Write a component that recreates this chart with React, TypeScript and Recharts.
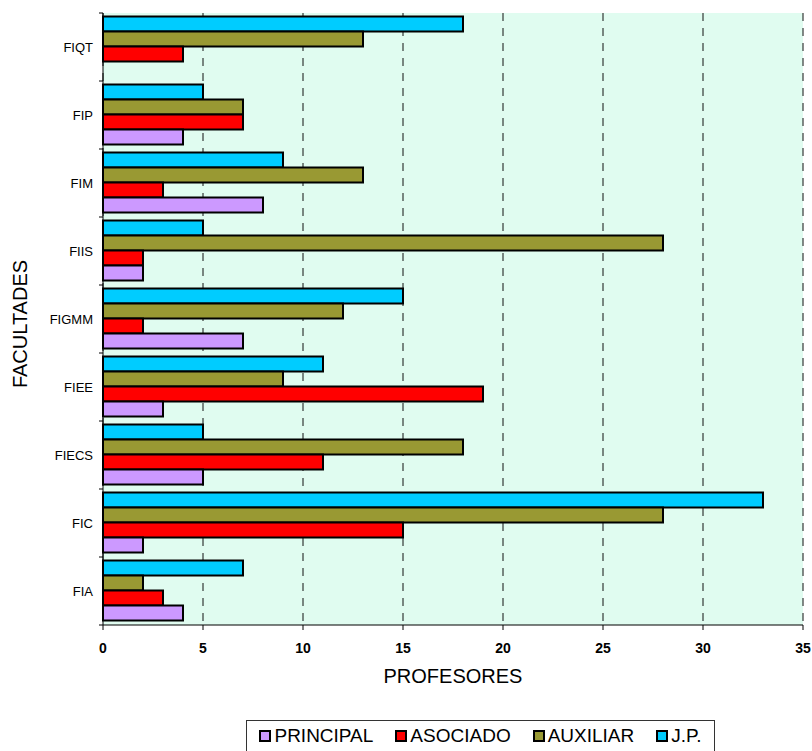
import { BarChart, Bar, XAxis, YAxis, CartesianGrid, Legend } from "recharts";

const FONT = '"Liberation Sans", Arial, sans-serif';

// bottom to top
const facultades = ["FIA", "FIC", "FIECS", "FIEE", "FIGMM", "FIIS", "FIM", "FIP", "FIQT"];
const principal = [4, 2, 5, 3, 7, 2, 8, 4, 0];
const asociado = [3, 15, 11, 19, 2, 2, 3, 7, 4];
const auxiliar = [2, 28, 18, 9, 12, 28, 13, 7, 13];
const jp = [7, 33, 5, 11, 15, 5, 9, 5, 18];
const xTicks = [0, 5, 10, 15, 20, 25, 30, 35];

// legend order differs from bar stacking order inside a band
const legendItems = [
  { name: "PRINCIPAL", color: "#cc99ff" },
  { name: "ASOCIADO", color: "#ff0000" },
  { name: "AUXILIAR", color: "#999933" },
  { name: "J.P.", color: "#00ccff" },
];

const W = 812;
const H = 751;
const MARGIN = { top: 13, right: 9, left: 0, bottom: 24 };
const Y_AXIS_W = 103;
const X_AXIS_H = 70;
const LEGEND_H = 32;
const PLOT_H = H - MARGIN.top - MARGIN.bottom - X_AXIS_H - LEGEND_H;
const HALF_BAND = PLOT_H / facultades.length / 2;

const data = facultades.map((f, i) => ({
  name: f,
  principal: principal[i],
  asociado: asociado[i],
  auxiliar: auxiliar[i],
  jp: jp[i],
}));

function FacTick({ y, payload, index }: any) {
  const ax = Y_AXIS_W;
  return (
    <g>
      <line x1={ax - 4} x2={ax} y1={y - HALF_BAND} y2={y - HALF_BAND} stroke="#000" />
      {index === 0 && <line x1={ax - 4} x2={ax} y1={y + HALF_BAND} y2={y + HALF_BAND} stroke="#000" />}
      <text x={ax - 10} y={y} textAnchor="end" dominantBaseline="central" fontSize={13} fill="#000" fontFamily={FONT}>
        {payload.value}
      </text>
    </g>
  );
}

function YTitle({ viewBox }: any) {
  const cx = 20;
  const cy = viewBox.y + viewBox.height / 2 + 5;
  return (
    <text x={cx} y={cy} transform={`rotate(-90, ${cx}, ${cy})`} textAnchor="middle" dominantBaseline="central" fontSize={20} fill="#000" fontFamily={FONT}>
      FACULTADES
    </text>
  );
}

function LegendBox() {
  return (
    <div
      style={{
        boxSizing: "border-box",
        height: LEGEND_H,
        width: 469,
        border: "1px solid #333",
        background: "#fff",
        display: "flex",
        alignItems: "center",
        justifyContent: "center",
        gap: 22,
        fontFamily: FONT,
        fontSize: 19,
        color: "#000",
      }}
    >
      {legendItems.map((it) => (
        <span key={it.name} style={{ display: "flex", alignItems: "center" }}>
          <span style={{ boxSizing: "border-box", width: 12, height: 12, background: it.color, border: "2px solid #000", marginRight: 3 }} />
          {it.name}
        </span>
      ))}
    </div>
  );
}

export default function App() {
  return (
    <div style={{ position: "absolute", left: 0, top: 0, background: "#fff" }}>
      <BarChart width={W} height={H} data={data} layout="vertical" margin={MARGIN} barCategoryGap="5%" barGap={0} style={{ fontFamily: FONT }}>
        <CartesianGrid horizontal={false} stroke="#111" strokeDasharray="8 7" fill="#e0fcf0" fillOpacity={1} />
        <XAxis
          type="number"
          domain={[0, 35]}
          ticks={xTicks}
          height={X_AXIS_H}
          tickSize={5}
          tickMargin={13}
          axisLine={{ stroke: "#000" }}
          tickLine={{ stroke: "#000" }}
          tick={{ fontSize: 14, fontWeight: 700, fill: "#000", fontFamily: FONT }}
          label={{ value: "PROFESORES", position: "insideBottom", offset: 12, fontSize: 20, fill: "#000", fontFamily: FONT }}
        />
        <YAxis
          type="category"
          dataKey="name"
          reversed
          width={Y_AXIS_W}
          tickLine={false}
          axisLine={{ stroke: "#000" }}
          tick={<FacTick />}
          label={<YTitle />}
          interval={0}
        />
        <Legend
          verticalAlign="bottom"
          content={() => <LegendBox />}
          wrapperStyle={{ left: 246, top: 720, bottom: "auto", width: 469, height: LEGEND_H }}
        />
        <Bar dataKey="jp" name="J.P." fill="#00ccff" stroke="#000" strokeWidth={2} isAnimationActive={false} />
        <Bar dataKey="auxiliar" name="AUXILIAR" fill="#999933" stroke="#000" strokeWidth={2} isAnimationActive={false} />
        <Bar dataKey="asociado" name="ASOCIADO" fill="#ff0000" stroke="#000" strokeWidth={2} isAnimationActive={false} />
        <Bar dataKey="principal" name="PRINCIPAL" fill="#cc99ff" stroke="#000" strokeWidth={2} isAnimationActive={false} />
      </BarChart>
    </div>
  );
}
